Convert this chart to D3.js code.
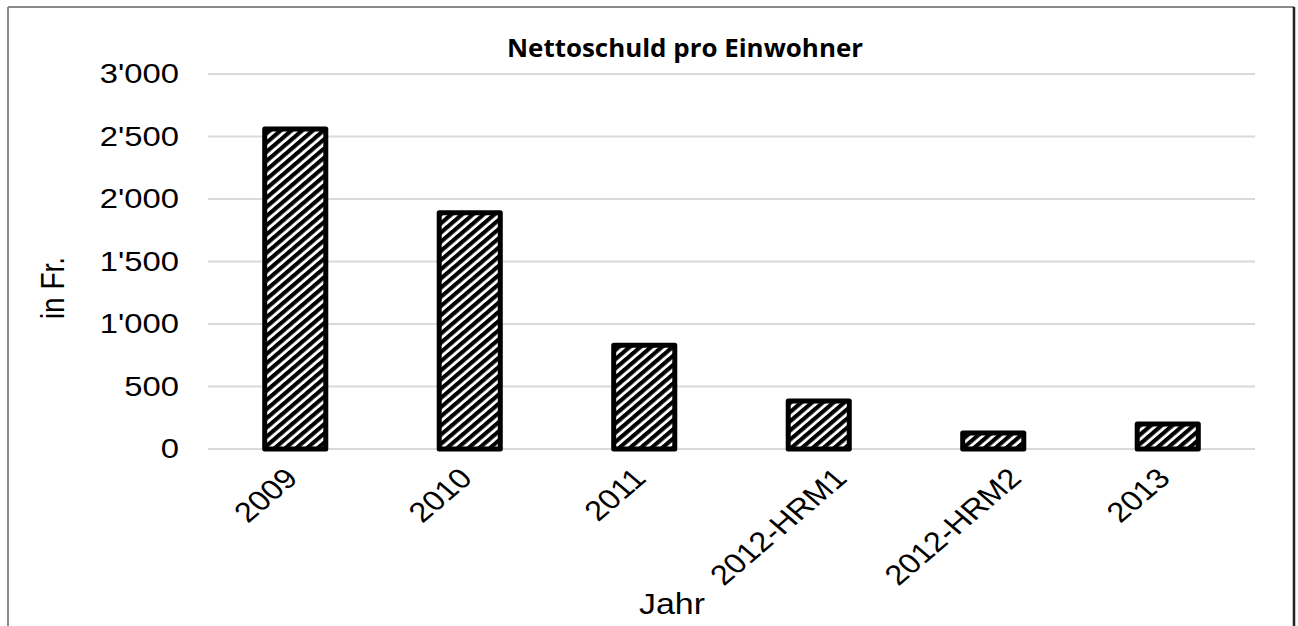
<!DOCTYPE html>
<html><head><meta charset="utf-8">
<script src="https://cdn.jsdelivr.net/npm/d3@7"></script>
<style>body{margin:0;background:#fff}svg{display:block}</style>
</head><body>
<svg id="c" width="1298" height="626"></svg>
<script>
const categories = ["2009","2010","2011","2012-HRM1","2012-HRM2","2013"];
const values = [2560, 1890, 830, 385, 128, 200];
const yTicks = [0,500,1000,1500,2000,2500,3000];
const title = "Nettoschuld pro Einwohner";
const xTitle = "Jahr";
const yTitle = "in Fr.";

const svg = d3.select("#c");
const m = {left:208, right:1255, top:74, bottom:449};
const SX = 1.17; // horizontal stretch of text
const FONT = "Liberation Sans, Arial, sans-serif";

// frame
svg.append("line").attr("x1",8).attr("y1",7).attr("x2",1294).attr("y2",7).attr("stroke","#8a8a8a").attr("stroke-width",2);
svg.append("line").attr("x1",8).attr("y1",7).attr("x2",8).attr("y2",626).attr("stroke","#8a8a8a").attr("stroke-width",2);
svg.append("line").attr("x1",1294).attr("y1",7).attr("x2",1294).attr("y2",626).attr("stroke","#222").attr("stroke-width",2.5);

const defs = svg.append("defs");
const pat = defs.append("pattern").attr("id","hatch").attr("patternUnits","userSpaceOnUse")
  .attr("width",6.5).attr("height",6.5).attr("patternTransform",`scale(${SX},1) rotate(45)`);
pat.append("rect").attr("width",6.5).attr("height",6.5).attr("fill","#fff");
pat.append("rect").attr("width",3.8).attr("height",6.5).attr("fill","#000");

const x = d3.scaleBand().domain(categories).range([m.left,m.right]).paddingInner(0.65).paddingOuter(0.325);
const y = d3.scaleLinear().domain([0,3000]).range([m.bottom,m.top]);
const loc = d3.formatLocale({decimal:".",thousands:"'",grouping:[3],currency:["",""]});
const fmt = loc.format(",");

// gridlines
svg.append("g").selectAll("line").data(yTicks).join("line")
  .attr("x1",m.left).attr("x2",m.right)
  .attr("y1",d=>y(d)).attr("y2",d=>y(d))
  .attr("stroke","#d9d9d9").attr("stroke-width",2);

// y axis labels
const yAxis = d3.axisLeft(y).tickValues(yTicks).tickFormat(fmt).tickSize(0).tickPadding(0);
const gy = svg.append("g").attr("transform",`translate(${m.left},0)`).call(yAxis);
gy.select(".domain").remove();
gy.selectAll("text").attr("font-family",FONT).attr("font-size",28).attr("fill","#000")
  .attr("x",0).attr("transform",`translate(-29,0) scale(${SX},1)`);

// bars
svg.append("g").selectAll("rect").data(values).join("rect")
  .attr("x",(d,i)=>x(categories[i]))
  .attr("width",x.bandwidth())
  .attr("y",d=>y(d))
  .attr("height",d=>y(0)-y(d))
  .attr("fill","url(#hatch)")
  .attr("stroke","#000").attr("stroke-width",5).attr("stroke-linejoin","round");

// x axis labels
const xAxis = d3.axisBottom(x).tickSize(0).tickPadding(0);
const gx = svg.append("g").attr("transform",`translate(0,${m.bottom})`).call(xAxis);
gx.select(".domain").remove();
gx.selectAll("text")
  .attr("font-family",FONT).attr("font-size",28).attr("fill","#000")
  .attr("text-anchor","end").attr("dy",0).attr("y",0)
  .each(function(){
    const L = this.getComputedTextLength();
    const shift = 4 + 0.29*(L - 62);
    d3.select(this).attr("transform",`translate(${shift},31) scale(${SX},1) rotate(-45)`);
  });

// titles
svg.append("text").attr("x",507).attr("y",57)
  .attr("font-family","Open Sans, DejaVu Sans, sans-serif").attr("font-weight","bold").attr("font-size",25)
  .attr("textLength",356).attr("lengthAdjust","spacingAndGlyphs")
  .text(title);
svg.append("text").attr("text-anchor","middle")
  .attr("transform",`translate(672,614) scale(${SX},1)`)
  .attr("font-family",FONT).attr("font-size",29)
  .text(xTitle);
svg.append("text").attr("transform",`translate(64,288) scale(${SX},1) rotate(-90)`).attr("text-anchor","middle")
  .attr("font-family",FONT).attr("font-size",28)
  .text(yTitle);
</script>
</body></html>
